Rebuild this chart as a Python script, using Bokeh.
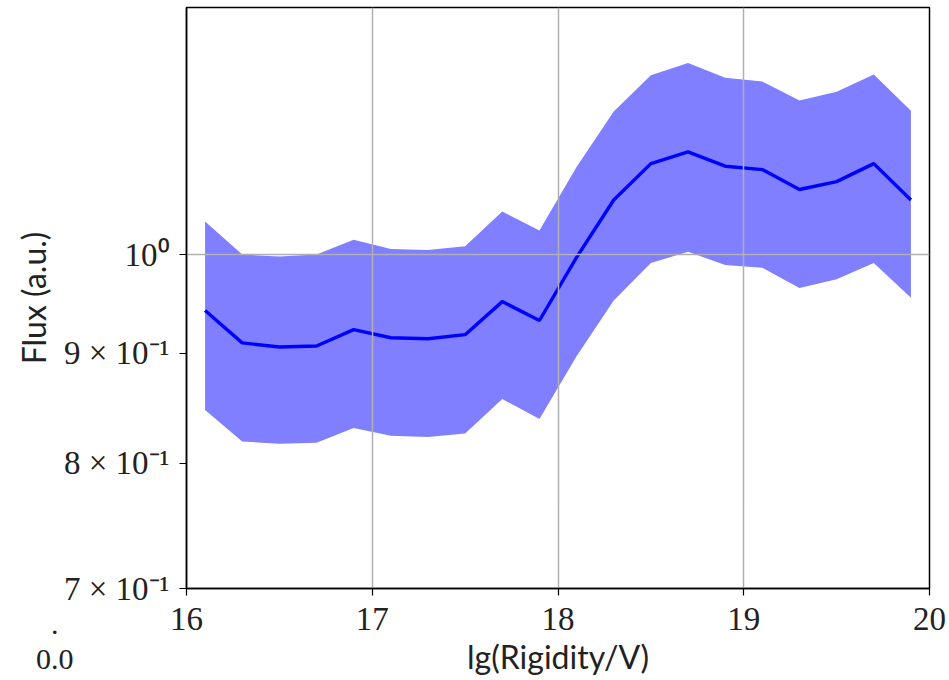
from bokeh.plotting import figure
from bokeh.layouts import column
from bokeh.models import Range1d, FixedTicker, Div
from bokeh.embed import file_html
from bokeh.resources import INLINE

# Bin centres in lg(R/V) and the flux estimate with its uncertainty band
rigidity = [16.1, 16.3, 16.5, 16.7, 16.9, 17.1, 17.3, 17.5, 17.7, 17.9,
            18.1, 18.3, 18.5, 18.7, 18.9, 19.1, 19.3, 19.5, 19.7, 19.9]
flux_mean = [0.942, 0.910, 0.906, 0.907, 0.923, 0.915, 0.914, 0.918, 0.951, 0.932,
             0.997, 1.060, 1.102, 1.116, 1.099, 1.095, 1.072, 1.081, 1.102, 1.060]
flux_low = [0.847, 0.819, 0.817, 0.818, 0.831, 0.824, 0.823, 0.826, 0.857, 0.839,
            0.897, 0.952, 0.991, 1.003, 0.989, 0.986, 0.965, 0.974, 0.991, 0.955]
flux_high = [1.036, 1.000, 0.998, 1.000, 1.016, 1.006, 1.005, 1.009, 1.047, 1.026,
             1.098, 1.165, 1.211, 1.227, 1.208, 1.203, 1.179, 1.190, 1.212, 1.166]

x_ticks = [16, 17, 18, 19, 20]
y_ticks = [0.7, 0.8, 0.9, 1.0]
y_tick_labels = ["7 × 10⁻¹", "8 × 10⁻¹", "9 × 10⁻¹", "10⁰"]

p = figure(width=949, height=680, y_axis_type="log",
           x_range=Range1d(16, 20), y_range=Range1d(0.7, 1.302),
           output_backend="svg", toolbar_location=None,
           min_border_left=186, min_border_right=20,
           min_border_top=7, min_border_bottom=92)

p.background_fill_color = "white"
p.border_fill_color = "white"
p.outline_line_color = "black"
p.outline_line_width = 1.5

# uncertainty band and central value
p.varea(x=rigidity, y1=flux_low, y2=flux_high, fill_color="#0000ff",
        fill_alpha=0.5, level="underlay")
p.line(rigidity, flux_mean, line_color="#0000ff", line_width=3.4)

# grid sits above the band but under the line
p.xgrid.ticker = FixedTicker(ticks=x_ticks)
p.ygrid.ticker = FixedTicker(ticks=[1.0])
for g in (p.xgrid, p.ygrid):
    g.grid_line_color = "#b0b0b0"
    g.grid_line_width = 1.5
    g.level = "glyph"

p.xaxis.ticker = FixedTicker(ticks=x_ticks)
p.yaxis.ticker = FixedTicker(ticks=y_ticks)
p.yaxis.major_label_overrides = {t: s for t, s in zip(y_ticks, y_tick_labels)}

for ax in (p.xaxis, p.yaxis):
    ax.axis_line_color = "black"
    ax.axis_line_width = 1.5
    ax.major_tick_line_color = "black"
    ax.major_tick_line_width = 1.2
    ax.major_tick_out = 7
    ax.major_tick_in = 0
    ax.minor_tick_line_color = None
    ax.major_label_text_font = "Liberation Serif"
    ax.major_label_text_font_size = "33px"
    ax.major_label_text_color = "#222222"
    ax.axis_label_text_font = "Lato"
    ax.axis_label_text_font_size = "32px"
    ax.axis_label_text_font_style = "normal"
    ax.axis_label_text_color = "#222222"

p.xaxis.axis_label = "lg(Rigidity/V)"
p.yaxis.axis_label = "Flux (a.u.)"
p.xaxis.major_label_standoff = 12
p.yaxis.major_label_standoff = 10
p.xaxis.axis_label_standoff = 4
p.yaxis.axis_label_standoff = 8

# stray "0.0" text sitting below the y axis, outside the plotting frame
stray = Div(
    text='<div style="font-family: \'Liberation Serif\', serif; font-size: 30px; '
         'line-height: 35px; text-align: center; color: #222222;">.<br>0.0</div>',
    width=38, height=72, margin=(-74, 0, 0, 36),
)

layout = column(p, stray)
open("out.html", "w").write(file_html(layout, INLINE))
